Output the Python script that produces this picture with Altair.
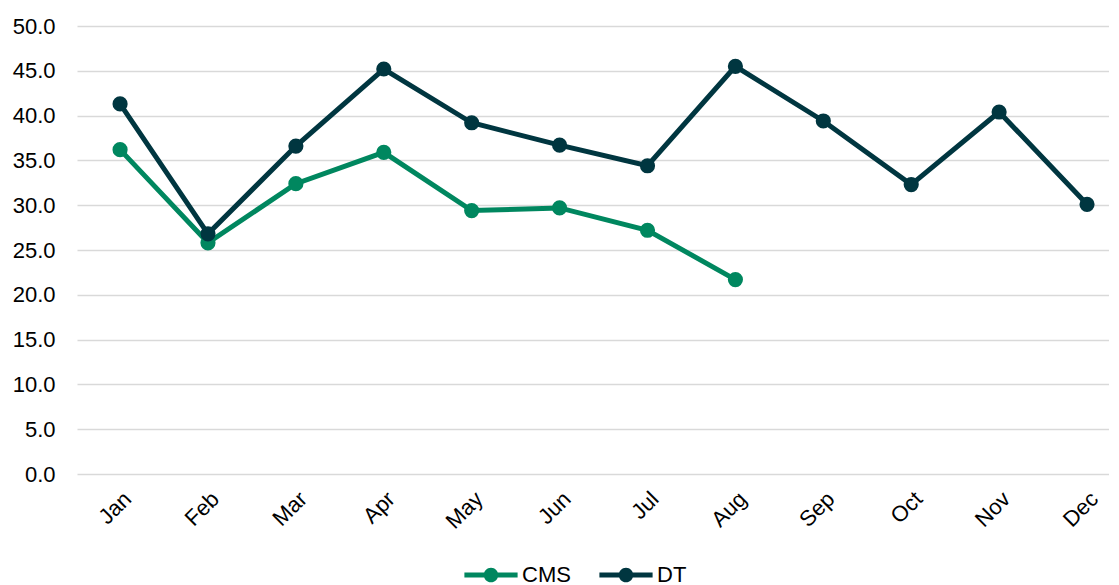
import altair as alt
import pandas as pd

months = ["Jan", "Feb", "Mar", "Apr", "May", "Jun", "Jul", "Aug", "Sep", "Oct", "Nov", "Dec"]
cms = [36.2, 25.8, 32.4, 35.9, 29.4, 29.7, 27.2, 21.7]
dt = [41.3, 26.8, 36.6, 45.2, 39.2, 36.7, 34.4, 45.5, 39.4, 32.3, 40.4, 30.1]
series = ["CMS", "DT"]
colors = ["#00875F", "#003640"]

rows = []
for i, v in enumerate(cms):
    rows.append({"idx": i, "month": months[i], "series": "CMS", "value": v})
for i, v in enumerate(dt):
    rows.append({"idx": i, "month": months[i], "series": "DT", "value": v})
df = pd.DataFrame(rows)

FONT = "Liberation Sans"
month_expr = "[" + ",".join("'%s'" % m for m in months) + "][datum.value]"

x = alt.X("idx:Q", title=None,
          scale=alt.Scale(domain=[-0.49, 11.25], nice=False, zero=False),
          axis=alt.Axis(values=list(range(12)), labelExpr=month_expr, labelAngle=-45,
                        labelFontSize=22, labelFont=FONT, labelColor="#000000",
                        ticks=False, domain=False, grid=False, labelPadding=14,
                        labelBound=False, labelFlush=False, labelOverlap=False))
y = alt.Y("value:Q", title=None,
          scale=alt.Scale(domain=[0, 50], nice=False),
          axis=alt.Axis(values=[0, 5, 10, 15, 20, 25, 30, 35, 40, 45, 50], format=".1f",
                        labelFontSize=22, labelFont=FONT, labelColor="#000000",
                        ticks=False, domain=False, gridColor="#d9d9d9", gridWidth=1.5,
                        labelPadding=22))

legend_path = ("M-1.9,-0.18 H1.9 V0.18 H-1.9 Z "
               "M-0.52,0 A0.52,0.52 0 1,1 0.52,0 A0.52,0.52 0 1,1 -0.52,0 Z")

legend = alt.Legend(title=None, orient="none", direction="horizontal",
                    legendX=400, legendY=535,
                    symbolType=legend_path,
                    symbolSize=784, symbolStrokeWidth=0, symbolOpacity=1,
                    labelFontSize=22, labelFont=FONT, labelColor="#000000",
                    labelOffset=17, columnPadding=28)
color = alt.Color("series:N", scale=alt.Scale(domain=series, range=colors), legend=legend)

lines = alt.Chart(df).mark_line(strokeWidth=5).encode(x=x, y=y, color=color)
points = alt.Chart(df).mark_point(filled=True, size=230, opacity=1).encode(x=x, y=y, color=color)

chart = (lines + points).properties(
    width=1032, height=448,
    padding={"left": 4, "top": 7, "right": 0, "bottom": 0},
).configure(background="#ffffff").configure_view(stroke=None)

chart.save("out.html", embed_options={"renderer": "svg", "actions": False})
